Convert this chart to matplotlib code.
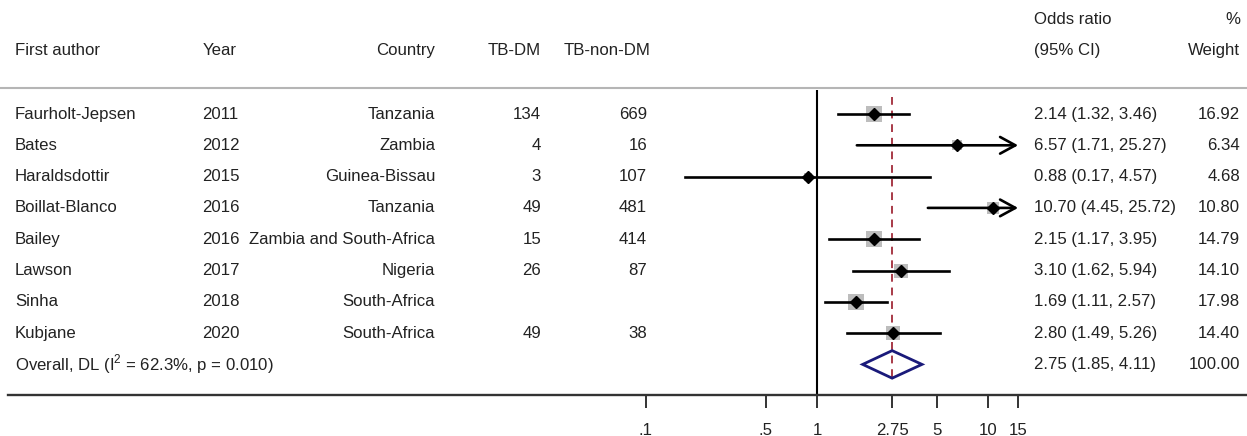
import matplotlib.pyplot as plt
import matplotlib.transforms as mtransforms

plt.rcParams['font.family'] = ['Liberation Sans', 'DejaVu Sans']
plt.rcParams['mathtext.fontset'] = 'custom'
plt.rcParams['mathtext.rm'] = 'Liberation Sans'

# data
authors = ['Faurholt-Jepsen', 'Bates', 'Haraldsdottir', 'Boillat-Blanco',
           'Bailey', 'Lawson', 'Sinha', 'Kubjane']
years = ['2011', '2012', '2015', '2016', '2016', '2017', '2018', '2020']
countries = ['Tanzania', 'Zambia', 'Guinea-Bissau', 'Tanzania',
             'Zambia and South-Africa', 'Nigeria', 'South-Africa', 'South-Africa']
tb_dm = ['134', '4', '3', '49', '15', '26', '', '49']
tb_nondm = ['669', '16', '107', '481', '414', '87', '', '38']
odds = [2.14, 6.57, 0.88, 10.70, 2.15, 3.10, 1.69, 2.80]
ci_lo = [1.32, 1.71, 0.17, 4.45, 1.17, 1.62, 1.11, 1.49]
ci_hi = [3.46, 25.27, 4.57, 25.72, 3.95, 5.94, 2.57, 5.26]
weights = [16.92, 6.34, 4.68, 10.80, 14.79, 14.10, 17.98, 14.40]
overall = (2.75, 1.85, 4.11)
overall_weight = 100.00
overall_label = r'Overall, DL (I$^{2}$ = 62.3%, p = 0.010)'
tick_vals = [0.1, 0.5, 1, 2.75, 5, 10, 15]
tick_labels = ['.1', '.5', '1', '2.75', '5', '10', '15']
x_max = 15

W, H = 1247, 436
fig = plt.figure(figsize=(W / 100, H / 100), dpi=100)
ax = fig.add_axes([8 / W, 1 - 395 / H, 1 - 8 / W, 395 / H])
ax.set_xscale('log')
ax.set_xlim(10 ** ((8 - 817) / 171), 10 ** ((W - 817) / 171))
row = lambda px: (px - 114) / 31.3
ax.set_ylim(row(395), row(0))

txt = '#222222'
fs = 12.1
blend = mtransforms.blended_transform_factory(fig.transFigure, ax.transData)

def put(px, y, s, ha='left'):
    ax.text(px / W, y, s, transform=blend, ha=ha, va='center', fontsize=fs, color=txt)

# header
put(15, row(50), 'First author')
put(203, row(50), 'Year')
put(435, row(50), 'Country', 'right')
put(541, row(50), 'TB-DM', 'right')
put(650, row(50), 'TB-non-DM', 'right')
put(1034, row(19), 'Odds ratio')
put(1034, row(50), '(95% CI)')
put(1240, row(19), '%', 'right')
put(1240, row(50), 'Weight', 'right')
ax.plot([0, 1], [row(88), row(88)], transform=blend, color='#b5b5b5', lw=1.5, clip_on=False)

# rows
for i in range(len(authors)):
    put(15, i, authors[i])
    put(202, i, years[i])
    put(435, i, countries[i], 'right')
    put(541, i, tb_dm[i], 'right')
    put(647, i, tb_nondm[i], 'right')
    put(1034, i, f'{odds[i]:.2f} ({ci_lo[i]:.2f}, {ci_hi[i]:.2f})')
    put(1240, i, f'{weights[i]:.2f}', 'right')

    ax.scatter(odds[i], i, s=7.9 * weights[i], marker='s', color='#bdbdbd', zorder=2, lw=0)
    if ci_hi[i] > x_max:
        ax.annotate('', xy=(x_max, i), xytext=(ci_lo[i], i),
                    arrowprops=dict(arrowstyle='->,head_length=1.1,head_width=0.6',
                                    mutation_scale=10, lw=1.9, color='black',
                                    shrinkA=0, shrinkB=0), zorder=3)
    else:
        ax.plot([ci_lo[i], ci_hi[i]], [i, i], color='black', lw=1.9, zorder=3)
    ax.plot(odds[i], i, 'D', color='black', ms=6.5, zorder=4)

# overall
n = len(authors)
put(15, n, overall_label)
put(1034, n, f'{overall[0]:.2f} ({overall[1]:.2f}, {overall[2]:.2f})')
put(1240, n, f'{overall_weight:.2f}', 'right')
est, lo, hi = overall
ax.fill([lo, est, hi, est, lo], [n, n - 0.44, n, n + 0.44, n], fill=False,
        edgecolor='#1a1a7a', lw=2.0, zorder=4)

# reference lines
ax.vlines(1, row(90), row(395), color='black', lw=1.5, zorder=1)
ax.vlines(est, row(97), row(380), color='#a83a48', lw=1.4, linestyles=(0, (4, 3)), zorder=1)

# axis
for s in ['left', 'right', 'top']:
    ax.spines[s].set_visible(False)
ax.spines['bottom'].set_linewidth(1.7)
ax.spines['bottom'].set_color('#333333')
ax.set_xticks(tick_vals, tick_labels)
ax.minorticks_off()
ax.set_yticks([])
ax.tick_params(axis='x', direction='out', length=9, width=1.4, pad=11,
               labelsize=fs, colors='#333333', labelcolor=txt)

fig.savefig('out.png', dpi=100)
